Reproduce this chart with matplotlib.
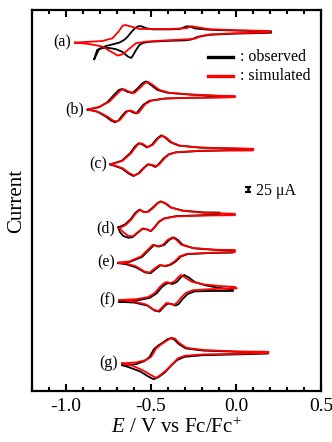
import numpy as np
import matplotlib
matplotlib.use('Agg')
import matplotlib.pyplot as plt
from matplotlib.ticker import MultipleLocator

plt.rcParams['font.family'] = ['Liberation Serif', 'DejaVu Serif']
plt.rcParams['mathtext.fontset'] = 'custom'
plt.rcParams['mathtext.rm'] = 'Liberation Serif'
plt.rcParams['mathtext.it'] = 'Liberation Serif:italic'

# potential (V vs Fc/Fc+) and current (uA, relative to the start of each scan)
# each loop: forward scan left->right, then reverse scan back
E_a_sim = [-0.947, -0.785, -0.726, -0.691, -0.667, -0.651, -0.617, -0.568, -0.489, -0.391, -0.29, -0.26, -0.23, -0.154, 0.004, 0.201,
           0.201, 0.004, -0.154, -0.203, -0.237, -0.272, -0.391, -0.528, -0.588, -0.637, -0.667, -0.696, -0.736, -0.785, -0.864, -0.947]
I_a_sim = [0, 8, 22, 55, 84, 88, 80, 68, 68, 68, 72, 82, 77, 67, 62, 58,
           51, 47, 41, 33, 21, 17, 12, 5, -3, -37, -58, -65, -45, -20, -7, 0]
E_a_obs = [-0.834, -0.805, -0.765, -0.726, -0.686, -0.657, -0.637, -0.617, -0.598, -0.578, -0.558, -0.528, -0.489, -0.391, -0.331, -0.292, -0.272, -0.243, -0.154, 0.004, 0.207,
           0.207, 0.004, -0.154, -0.225, -0.260, -0.302, -0.391, -0.509, -0.549, -0.568, -0.588, -0.608, -0.617, -0.637, -0.667, -0.706, -0.746, -0.785, -0.817, -0.834]
I_a_obs = [-83, -32, -17, -9, 0, 14, 30, 51, 69, 81, 82, 72, 66, 66, 68, 81, 81, 71, 64, 60, 56,
           49, 45, 39, 29, 16, 11, 9, 4, -2, -12, -37, -67, -77, -69, -47, -33, -27, -27, -37, -83]

E_b_sim = [-0.868, -0.805, -0.746, -0.706, -0.676, -0.657, -0.627, -0.598, -0.568, -0.538, -0.519, -0.489, -0.450, -0.391, -0.272, -0.095, -0.006,
           -0.006, -0.095, -0.272, -0.410, -0.497, -0.533, -0.556, -0.574, -0.592, -0.617, -0.637, -0.657, -0.680, -0.701, -0.722, -0.757, -0.805, -0.868]
I_b_sim = [0, 13, 38, 72, 97, 100, 88, 82, 105, 130, 138, 122, 97, 83, 75, 68, 67,
           61, 59, 58, 55, 44, 27, 2, -18, -16, -6, -8, -26, -51, -61, -56, -36, -14, 0]
E_b_obs = [-0.873, -0.805, -0.757, -0.718, -0.689, -0.670, -0.639, -0.609, -0.580, -0.550, -0.530, -0.500, -0.462, -0.402, -0.272, -0.095,
           -0.095, -0.272, -0.420, -0.509, -0.544, -0.568, -0.586, -0.604, -0.627, -0.648, -0.669, -0.692, -0.713, -0.734, -0.769, -0.817, -0.873]
I_b_obs = [-1, 11, 36, 72, 97, 102, 88, 82, 104, 131, 140, 122, 97, 83, 74, 67,
           61, 58, 54, 43, 24, -1, -20, -16, -6, -11, -31, -56, -64, -56, -34, -11, -1]

E_c_sim = [-0.736, -0.667, -0.617, -0.588, -0.568, -0.549, -0.519, -0.489, -0.460, -0.434, -0.410, -0.380, -0.331, -0.213, -0.055, 0.102,
           0.102, -0.055, -0.213, -0.351, -0.391, -0.420, -0.450, -0.469, -0.489, -0.513, -0.538, -0.568, -0.598, -0.627, -0.667, -0.736]
I_c_sim = [0, 17, 55, 88, 105, 102, 85, 97, 127, 143, 133, 110, 93, 83, 80, 77,
           69, 69, 67, 60, 50, 30, 0, -12, -4, 0, -17, -45, -57, -45, -20, 0]
E_c_obs = [-0.740, -0.672, -0.623, -0.594, -0.574, -0.555, -0.525, -0.495, -0.466, -0.440, -0.416, -0.386, -0.337, -0.213, -0.055, 0.095,
           0.095, -0.055, -0.213, -0.355, -0.396, -0.426, -0.456, -0.475, -0.495, -0.519, -0.544, -0.574, -0.604, -0.633, -0.672, -0.740]
I_c_obs = [-1, 17, 55, 89, 104, 101, 84, 97, 127, 144, 133, 110, 93, 83, 79, 76,
           70, 69, 66, 59, 49, 29, -1, -14, -5, -1, -19, -46, -59, -46, -21, -1]

E_d_sim = [-0.686, -0.647, -0.617, -0.588, -0.564, -0.538, -0.513, -0.485, -0.460, -0.440, -0.414, -0.380, -0.312, -0.193, -0.006,
           -0.006, -0.193, -0.351, -0.420, -0.450, -0.479, -0.499, -0.525, -0.549, -0.578, -0.608, -0.637, -0.667, -0.686]
I_d_sim = [0, 17, 42, 75, 92, 80, 83, 103, 125, 133, 125, 103, 87, 77, 72,
           65, 63, 59, 49, 33, 3, -14, -5, -1, -20, -41, -37, -17, 0]
E_d_obs = [-0.692, -0.653, -0.621, -0.592, -0.568, -0.543, -0.517, -0.489, -0.463, -0.444, -0.418, -0.385, -0.314, -0.193, -0.095,
           -0.095, -0.193, -0.355, -0.423, -0.453, -0.482, -0.502, -0.528, -0.550, -0.580, -0.609, -0.633, -0.663, -0.683, -0.692]
I_d_obs = [4, 19, 44, 77, 93, 81, 83, 104, 125, 134, 125, 104, 88, 79, 78,
           69, 65, 60, 49, 33, 3, -15, -5, -3, -24, -45, -48, -39, -19, 4]

E_e_sim = [-0.689, -0.627, -0.558, -0.519, -0.489, -0.460, -0.430, -0.401, -0.375, -0.351, -0.321, -0.253, -0.114, -0.006,
           -0.006, -0.154, -0.292, -0.331, -0.361, -0.391, -0.420, -0.450, -0.479, -0.509, -0.538, -0.588, -0.647, -0.689]
I_e_sim = [0, 6, 31, 64, 89, 81, 89, 114, 126, 114, 89, 73, 64, 63,
           53, 49, 43, 31, 6, -10, -17, -12, -30, -50, -45, -19, -4, 0]
E_e_obs = [-0.692, -0.627, -0.553, -0.512, -0.482, -0.454, -0.423, -0.393, -0.367, -0.343, -0.314, -0.246, -0.114, -0.018,
           -0.018, -0.154, -0.287, -0.325, -0.355, -0.385, -0.414, -0.444, -0.473, -0.503, -0.536, -0.588, -0.647, -0.692]
I_e_obs = [-3, 3, 28, 63, 88, 80, 88, 113, 126, 114, 89, 71, 63, 60,
           50, 48, 42, 30, 5, -11, -18, -13, -33, -53, -49, -24, -8, -3]

E_f_sim = [-0.686, -0.588, -0.519, -0.479, -0.450, -0.426, -0.408, -0.385, -0.361, -0.341, -0.325, -0.302, -0.262, -0.193, -0.095, -0.006,
           0.004, -0.154, -0.253, -0.296, -0.325, -0.349, -0.367, -0.391, -0.410, -0.432, -0.456, -0.485, -0.527, -0.598, -0.686]
I_f_sim = [0, 4, 14, 34, 63, 83, 90, 85, 93, 113, 125, 114, 92, 78, 70, 65,
           58, 54, 49, 35, 10, -15, -25, -18, -15, -35, -55, -48, -23, -8, 0]
E_f_obs = [-0.686, -0.588, -0.509, -0.467, -0.438, -0.414, -0.396, -0.373, -0.349, -0.325, -0.305, -0.278, -0.243, -0.178, -0.095, -0.018,
           -0.018, -0.154, -0.243, -0.284, -0.314, -0.337, -0.355, -0.379, -0.402, -0.426, -0.450, -0.479, -0.521, -0.598, -0.686]
I_f_obs = [-9, -3, 10, 33, 63, 80, 84, 80, 90, 113, 125, 113, 90, 73, 60, 53,
           45, 45, 43, 30, 5, -20, -28, -20, -18, -35, -58, -53, -28, -13, -9]

E_g_sim = [-0.670, -0.588, -0.528, -0.499, -0.469, -0.440, -0.410, -0.380, -0.361, -0.331, -0.292, -0.193, 0.004, 0.191,
           0.191, 0.004, -0.193, -0.302, -0.342, -0.371, -0.410, -0.440, -0.469, -0.499, -0.549, -0.608, -0.670]
I_g_sim = [0, 5, 17, 33, 75, 95, 112, 128, 125, 100, 78, 67, 60, 58,
           52, 48, 45, 38, 25, 0, -34, -55, -72, -59, -34, -12, 0]
E_g_obs = [-0.670, -0.588, -0.538, -0.509, -0.482, -0.460, -0.430, -0.401, -0.388, -0.367, -0.337, -0.296, -0.193, 0.004, 0.189,
           0.189, 0.004, -0.193, -0.302, -0.346, -0.379, -0.417, -0.456, -0.485, -0.515, -0.562, -0.627, -0.670]
I_g_obs = [-9, -4, 12, 32, 72, 88, 104, 122, 125, 122, 97, 75, 64, 58, 56,
           49, 45, 41, 33, 17, -9, -44, -69, -79, -66, -41, -20, -9]

labels = ['(a)', '(b)', '(c)', '(d)', '(e)', '(f)', '(g)']
# vertical stacking of the voltammograms (uA)
offsets = [1742, 1408, 1134, 814, 642, 455, 138]
scale_bar = 25  # uA

traces = [
    (E_a_obs, I_a_obs, E_a_sim, I_a_sim),
    (E_b_obs, I_b_obs, E_b_sim, I_b_sim),
    (E_c_obs, I_c_obs, E_c_sim, I_c_sim),
    (E_d_obs, I_d_obs, E_d_sim, I_d_sim),
    (E_e_obs, I_e_obs, E_e_sim, I_e_sim),
    (E_f_obs, I_f_obs, E_f_sim, I_f_sim),
    (E_g_obs, I_g_obs, E_g_sim, I_g_sim),
]

fig = plt.figure(figsize=(3.32, 4.42), dpi=100)
ax = fig.add_axes([0.0964, 0.1154, 0.8705, 0.862])

for k, (eo, io, es, isim) in enumerate(traces):
    off = offsets[k]
    ax.plot(eo, np.array(io) + off, color='black', lw=1.3, solid_joinstyle='round')
    ax.plot(es, np.array(isim) + off, color='red', lw=1.3, solid_joinstyle='round')
    ax.text(min(es) - 0.025, off, labels[k], ha='right', va='center', fontsize=11.5)

# scale bar
ax.errorbar([0.073], [1007], yerr=scale_bar / 2, color='black', capsize=2.5, elinewidth=1.8, capthick=1.5)
ax.text(0.118, 1000, '25 \u03bcA', ha='left', va='center', fontsize=11.5)

# legend drawn by hand
ax.plot([0.609, 0.696], [0.876, 0.876], color='black', lw=2.4, transform=ax.transAxes)
ax.plot([0.609, 0.696], [0.827, 0.827], color='red', lw=2.4, transform=ax.transAxes)
ax.text(0.72, 0.876, ': observed', transform=ax.transAxes, ha='left', va='center', fontsize=11.5)
ax.text(0.72, 0.827, ': simulated', transform=ax.transAxes, ha='left', va='center', fontsize=11.5)

ax.set_xlim(-1.2, 0.5)
ax.set_ylim(0, 1905)
ax.xaxis.set_minor_locator(MultipleLocator(0.1))
ax.set_xticks([-1.0, -0.5, 0.0, 0.5])
ax.set_xticklabels(['-1.0', '-0.5', '0.0', '0.5'])
ax.tick_params(axis='x', which='both', direction='in', top=True, bottom=True, labelsize=14, width=1.5, pad=5)
ax.tick_params(axis='x', which='major', length=5)
ax.tick_params(axis='x', which='minor', length=3)
ax.set_yticks([])
for s in ax.spines.values():
    s.set_linewidth(1.6)

ax.set_xlabel('$E$ / V vs Fc/Fc$^{+}$', fontsize=15, labelpad=2)
ax.set_ylabel('Current', fontsize=15, labelpad=4)

fig.savefig('out.png', dpi=100)
